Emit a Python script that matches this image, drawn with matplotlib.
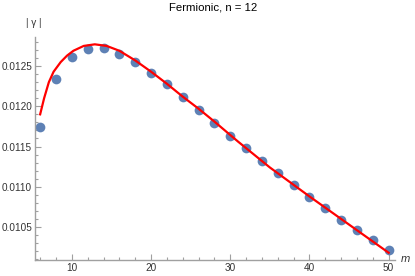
import matplotlib
matplotlib.use('Agg')
from matplotlib import pyplot as plt
from matplotlib.ticker import MultipleLocator, FormatStrFormatter

plt.rcParams['font.family'] = ['Liberation Sans', 'DejaVu Sans']

# data points (m, |gamma|)
m_pts = [6, 8, 10, 12, 14, 16, 18, 20, 22, 24, 26, 28, 30, 32, 34, 36, 38, 40, 42, 44, 46, 48, 50]
g_pts = [0.011741, 0.012335, 0.012608, 0.012711, 0.012720, 0.012649, 0.012546, 0.012417,
         0.012272, 0.012111, 0.011957, 0.011795, 0.011629, 0.011476, 0.011318, 0.011165,
         0.011016, 0.010871, 0.010730, 0.010593, 0.010460, 0.010336, 0.010211]

# fitted curve
m_fit = [6.0, 6.5, 7.1, 7.7, 8.6, 9.4, 10.2, 11.5, 12.9, 14.4, 16.0, 18.0, 20.0, 22.0,
         24.0, 26.0, 28.0, 31.0, 35.0, 40.0, 45.0, 50.0]
g_fit = [0.01190, 0.01210, 0.01230, 0.01243, 0.01255, 0.01263, 0.01269, 0.01275,
         0.01277, 0.01275, 0.01269, 0.01257, 0.01243, 0.01228, 0.01212, 0.01197,
         0.01181, 0.01156, 0.01124, 0.01088, 0.01053, 0.01018]

W, H = 415, 276
fig = plt.figure(figsize=(W / 100, H / 100), dpi=100)
ax = fig.add_axes([35 / W, 16 / H, (395 - 35) / W, (260 - 37) / H])

ax.plot(m_pts, g_pts, 'o', color='#5e81b5', markersize=7, markeredgewidth=0,
        clip_on=False, zorder=2)
ax.plot(m_fit, g_fit, '-', color='red', lw=1.6, zorder=3, solid_joinstyle='round')

ax.set_xlim(5.35, 50.8)
ax.set_ylim(0.01009, 0.012861)

for s in ['top', 'right']:
    ax.spines[s].set_visible(False)
for s in ['left', 'bottom']:
    ax.spines[s].set_color('#a0a0a0')
    ax.spines[s].set_linewidth(1.0)

ax.xaxis.set_major_locator(MultipleLocator(10))
ax.xaxis.set_minor_locator(MultipleLocator(2))
ax.yaxis.set_major_locator(MultipleLocator(0.0005))
ax.yaxis.set_minor_locator(MultipleLocator(0.0001))
ax.yaxis.set_major_formatter(FormatStrFormatter('%.4f'))
ax.tick_params(which='both', direction='in', color='#a0a0a0', labelsize=7.2,
               labelcolor='#333333', width=0.8, pad=2)
ax.tick_params(which='major', length=4)
ax.tick_params(which='minor', length=2)

fig.text(213 / W, 1 - 8 / H, 'Fermionic, n = 12', ha='center', va='center', fontsize=8.2)
fig.text(34 / W, 1 - 23 / H, '| γ |', ha='center', va='center', fontsize=7.2,
         color='#333333')
fig.text(405 / W, 1 - 259 / H, 'm', ha='center', va='center', fontsize=8,
         style='italic', color='#333333')

fig.savefig('out.png', dpi=100)
